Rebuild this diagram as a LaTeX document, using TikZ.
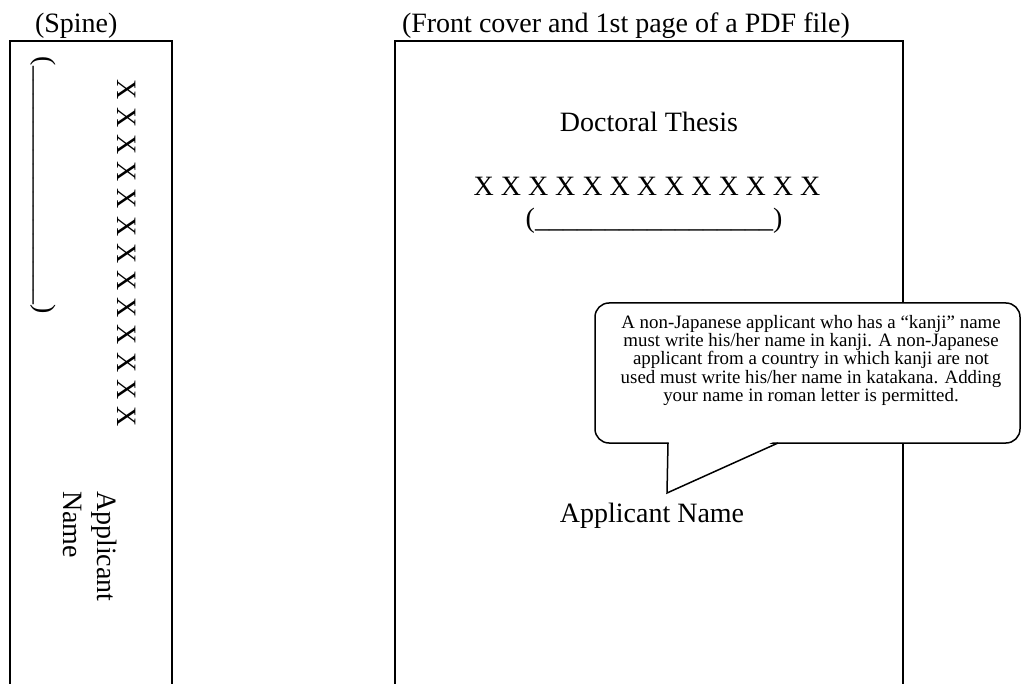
\documentclass[tikz,border=0pt]{standalone}
\usepackage{fontspec}
\setmainfont{Liberation Serif}
\newcommand{\bigtext}{\fontsize{28}{34}\selectfont}
\newcommand{\labeltext}{\fontsize{28}{34}\selectfont}
\newcommand{\notetext}{\fontsize{18.9}{18.4}\selectfont}
\begin{document}
\begin{tikzpicture}[x=1pt,y=-1pt,
  frame/.style={line width=2pt},
  txt/.style={inner sep=0pt,outer sep=0pt},
  spinetxt/.style={txt,anchor=base west,rotate=-90,font=\bigtext},
  notebox/.style={draw,fill=white,line width=1.5pt,rounded corners=14pt,
    minimum width=425pt,minimum height=140pt,inner sep=0pt},
  pointer/.style={line width=1.5pt,line join=miter}]
\useasboundingbox (0,0) rectangle (1022,684);

% headings
\node[txt,anchor=base west,font=\labeltext] (spinelabel) at (35,33) {(Spine)};
\node[txt,anchor=base west,font=\labeltext] (coverlabel) at (402,33) {(Front cover and 1st page of a PDF file)};

% spine outline, open at the bottom
\draw[frame] (10,684) |- (172,41) -- (172,684);

% spine texts, reading downwards
\node[spinetxt] (spinesub) at (36,57) {(\_\_\_\_\_\_\_\_\_\_\_\_\_\_\_\_\_)};
\node[spinetxt] (spinetitle) at (117,80) {X X X X X X X X X X X X X};
\node[spinetxt] (spineapp) at (97,491) {Applicant};
\node[spinetxt] (spinename) at (63,491) {Name};

% front cover outline, open at the bottom
\draw[frame] (395,684) |- (903,41) -- (903,684);

\node[txt,anchor=base,font=\bigtext] (thesis) at (649,132) {Doctoral Thesis};
\node[txt,anchor=base,font=\bigtext] (title) at (647,196) {X X X X X X X X X X X X X};
\node[txt,anchor=base,font=\bigtext] (subtitle) at (654,228) {(\_\_\_\_\_\_\_\_\_\_\_\_\_\_\_\_\_)};
\node[txt,anchor=base,font=\bigtext] (applicant) at (652,522) {Applicant Name};

% speech bubble
\node[notebox] (note) at (807.5,373) {};
\coordinate (pl) at (668,443);
\coordinate (pr) at (778,443);
\coordinate (tip) at (667,493);
\fill[white] (669,441) -- (tip) -- (775,441) -- cycle;
\draw[pointer] (pl) -- (tip) -- (pr);
\node[txt,anchor=north,align=center,font=\notetext] (notetext) at (811,315)
  {A non-Japanese applicant who has a “kanji” name\\
   must write his/her name in kanji. A non-Japanese\\
   applicant from a country in which kanji are not\\
   used must write his/her name in katakana. Adding\\
   your name in roman letter is permitted.};
\end{tikzpicture}
\end{document}
